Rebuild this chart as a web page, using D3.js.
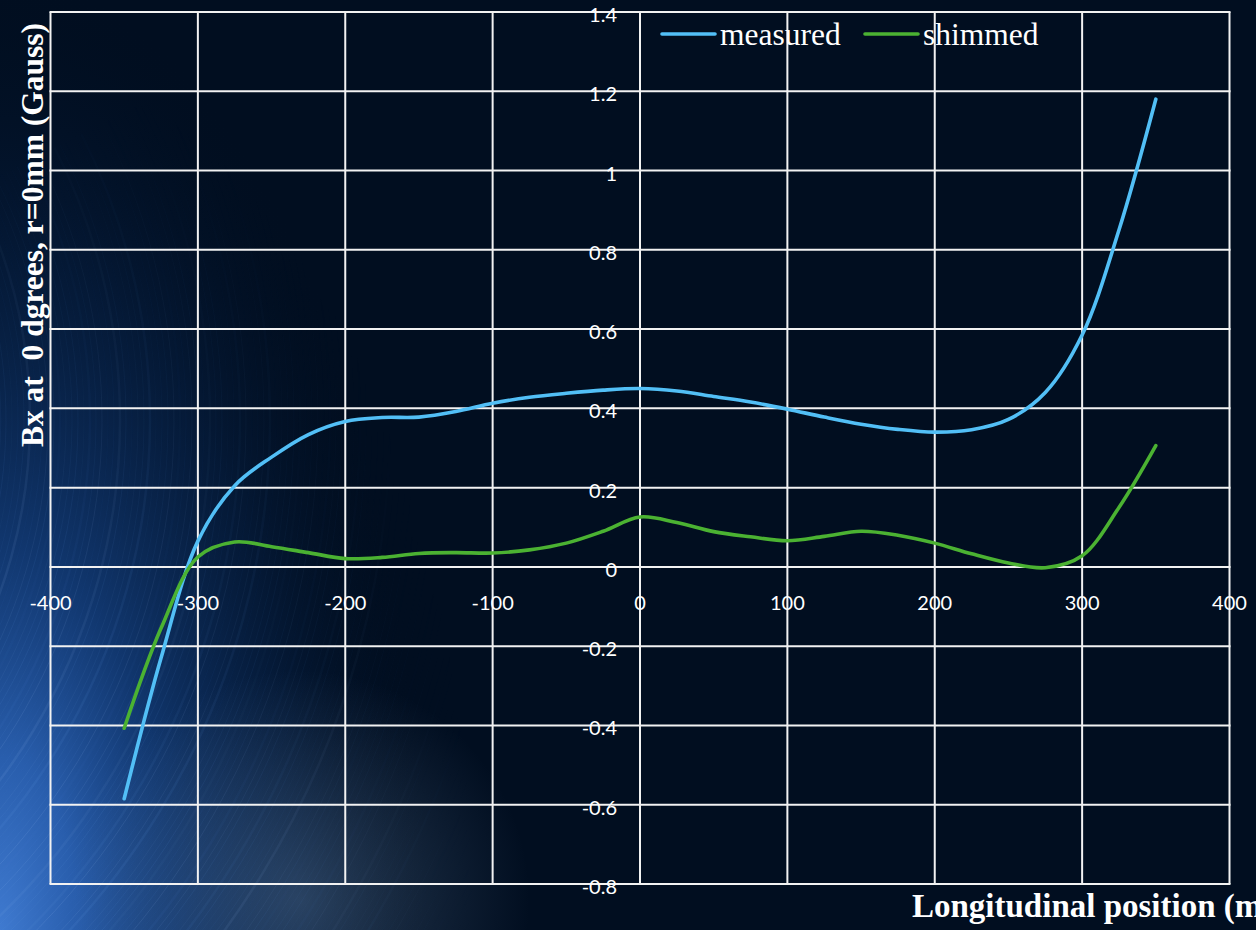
<!DOCTYPE html>
<html>
<head>
<meta charset="utf-8">
<script src="https://cdn.jsdelivr.net/npm/d3@7"></script>
<style>
  html, body { margin: 0; padding: 0; background: #010e20; overflow: hidden; }
  svg { display: block; }
</style>
</head>
<body>
<svg id="chart" width="1256" height="930"></svg>
<script>
// Longitudinal position along the magnet (mm)
const positions = [-350, -325, -300, -275, -250, -225, -200, -175, -150, -125, -100, -75, -50, -25,
                   0, 25, 50, 75, 100, 125, 150, 175, 200, 225, 250, 275, 300, 325, 350];

// Bx at 0 degrees, r = 0 mm (Gauss)
const measured = [-0.585, -0.23, 0.065, 0.205, 0.277, 0.334, 0.367, 0.377, 0.378, 0.392, 0.413, 0.428, 0.438, 0.446,
                  0.45, 0.444, 0.43, 0.416, 0.398, 0.378, 0.36, 0.347, 0.34, 0.346, 0.372, 0.44, 0.585, 0.85, 1.18];
const shimmed  = [-0.407, -0.155, 0.025, 0.063, 0.051, 0.036, 0.021, 0.024, 0.034, 0.036, 0.035, 0.043, 0.06, 0.09,
                  0.126, 0.112, 0.089, 0.076, 0.066, 0.077, 0.09, 0.08, 0.06, 0.033, 0.01, -0.002, 0.028, 0.15, 0.306];

const seriesNames  = ["measured", "shimmed"];
const seriesColors = ["#52bff6", "#4bb232"];

const xTicks = [-400, -300, -200, -100, 0, 100, 200, 300, 400];
const yTicks = [-0.8, -0.6, -0.4, -0.2, 0, 0.2, 0.4, 0.6, 0.8, 1, 1.2, 1.4];
const yTickLabels = ["-0.8", "-0.6", "-0.4", "-0.2", "0", "0.2", "0.4", "0.6", "0.8", "1", "1.2", "1.4"];

const yTitle = "Bx at  0 dgrees, r=0mm (Gauss)";
const xTitle = "Longitudinal position (mm)";

const W = 1256, H = 930;
const svg = d3.select("#chart");
const defs = svg.append("defs");

// ---------- backdrop: dark navy with a blue glow and light streaks in the lower left ----------
svg.append("rect").attr("width", W).attr("height", H).attr("fill", "#010e20");

const glow = defs.append("radialGradient")
  .attr("id", "glow")
  .attr("gradientUnits", "userSpaceOnUse")
  .attr("cx", 0).attr("cy", 930).attr("r", 1)
  .attr("gradientTransform", "translate(0,930) scale(430,960) translate(0,-930)");
[[0, "#3f7ad0", 1], [0.18, "#2b62b4", 0.95], [0.4, "#164488", 0.75], [0.7, "#0a2a58", 0.4], [1, "#010e20", 0]]
  .forEach(([o, c, a]) => glow.append("stop").attr("offset", o).attr("stop-color", c).attr("stop-opacity", a));
svg.append("rect").attr("width", W).attr("height", H).attr("fill", "url(#glow)");

const haze = defs.append("radialGradient").attr("id", "haze")
  .attr("gradientUnits", "userSpaceOnUse").attr("cx", 300).attr("cy", 900).attr("r", 230);
haze.append("stop").attr("offset", 0).attr("stop-color", "#6d8fb5").attr("stop-opacity", 0.35);
haze.append("stop").attr("offset", 1).attr("stop-color", "#6d8fb5").attr("stop-opacity", 0);
svg.append("rect").attr("width", W).attr("height", H).attr("fill", "url(#haze)");

// streak mask follows the glow falloff
const mask = defs.append("mask").attr("id", "streakMask");
const mg = defs.append("radialGradient")
  .attr("id", "maskGrad")
  .attr("gradientUnits", "userSpaceOnUse")
  .attr("cx", 0).attr("cy", 930).attr("r", 1)
  .attr("gradientTransform", "translate(0,930) scale(480,880) translate(0,-930)");
mg.append("stop").attr("offset", 0).attr("stop-color", "#fff");
mg.append("stop").attr("offset", 0.55).attr("stop-color", "#777");
mg.append("stop").attr("offset", 1).attr("stop-color", "#000");
mask.append("rect").attr("width", W).attr("height", H).attr("fill", "url(#maskGrad)");

// fine arcs curving up toward the left edge
const streaks = svg.append("g").attr("mask", "url(#streakMask)").attr("fill", "none");
const sc = [-480, 420];
for (let i = 0; i < 110; i++) {
  const r = 420 + i * 6;
  const p = d3.path();
  p.arc(0, 0, r, -0.15 * Math.PI, 0.5 * Math.PI);
  streaks.append("path")
    .attr("transform", `translate(${sc[0]},${sc[1]})`)
    .attr("d", p.toString())
    .attr("stroke", i % 3 === 0 ? "#8fb8ee" : "#5a8fdc")
    .attr("stroke-width", 1 + (i % 5 === 0 ? 1.5 : 0))
    .attr("stroke-opacity", 0.06 + (i % 4) * 0.035);
}

// ---------- scales ----------
const x = d3.scaleLinear().domain([-400, 400]).range([50.5, 1229.5]);
const y = d3.scaleLinear().domain([-0.8, 1.4]).range([884, 12]);

// ---------- grid ----------
const grid = svg.append("g").attr("stroke", "#f2f2f2").attr("stroke-width", 2);
grid.selectAll("line.v").data(xTicks).join("line").attr("class", "v")
  .attr("x1", d => x(d)).attr("x2", d => x(d))
  .attr("y1", y(-0.8)).attr("y2", y(1.4));
grid.selectAll("line.h").data(yTicks).join("line").attr("class", "h")
  .attr("y1", d => y(d)).attr("y2", d => y(d))
  .attr("x1", x(-400) - 1).attr("x2", x(400) + 1);

// ---------- tick labels ----------
const tickFont = "Lato, 'Open Sans', sans-serif";
svg.append("g").selectAll("text").data(xTicks).join("text")
  .attr("x", d => x(d)).attr("y", y(0) + 43)
  .attr("text-anchor", "middle")
  .attr("font-family", tickFont).attr("font-size", 20).attr("fill", "#ffffff")
  .text(d => d);

svg.append("g").selectAll("text").data(yTicks).join("text")
  .attr("x", x(0) - 23).attr("y", d => y(d)).attr("dy", "0.5em")
  .attr("text-anchor", "end")
  .attr("font-family", tickFont).attr("font-size", 20).attr("fill", "#ffffff")
  .text((d, i) => yTickLabels[i]);

// ---------- series ----------
const line = d3.line()
  .x(d => x(d[0])).y(d => y(d[1]))
  .curve(d3.curveCatmullRom.alpha(0.5));

[measured, shimmed].forEach((vals, k) => {
  svg.append("path")
    .datum(positions.map((p, i) => [p, vals[i]]))
    .attr("fill", "none")
    .attr("stroke", seriesColors[k])
    .attr("stroke-width", 3.6)
    .attr("stroke-linecap", "round")
    .attr("stroke-linejoin", "round")
    .attr("d", line);
});

// ---------- legend ----------
const legendX = [662, 865];
const legend = svg.append("g").selectAll("g").data(seriesNames).join("g")
  .attr("transform", (d, i) => `translate(${legendX[i]},34)`);
legend.append("line")
  .attr("x1", 0).attr("x2", 53).attr("y1", 0).attr("y2", 0)
  .attr("stroke", (d, i) => seriesColors[i]).attr("stroke-width", 3.6).attr("stroke-linecap", "round");
legend.append("text")
  .attr("x", 58).attr("y", 11)
  .attr("font-family", "'Liberation Serif', 'Times New Roman', serif")
  .attr("font-size", 31.5).attr("fill", "#ffffff")
  .text(d => d);

// ---------- axis titles ----------
svg.append("text")
  .attr("transform", "translate(43,235) rotate(-90)")
  .attr("text-anchor", "middle")
  .attr("font-family", "'Liberation Serif', 'Times New Roman', serif")
  .attr("font-weight", "bold").attr("font-size", 31.5).attr("fill", "#ffffff")
  .style("white-space", "pre")
  .text(yTitle);

// the title runs past the right edge of the page
svg.append("text")
  .attr("x", 912).attr("y", 917)
  .attr("font-family", "'Liberation Serif', 'Times New Roman', serif")
  .attr("font-weight", "bold").attr("font-size", 33).attr("fill", "#ffffff")
  .text(xTitle);
</script>
</body>
</html>
